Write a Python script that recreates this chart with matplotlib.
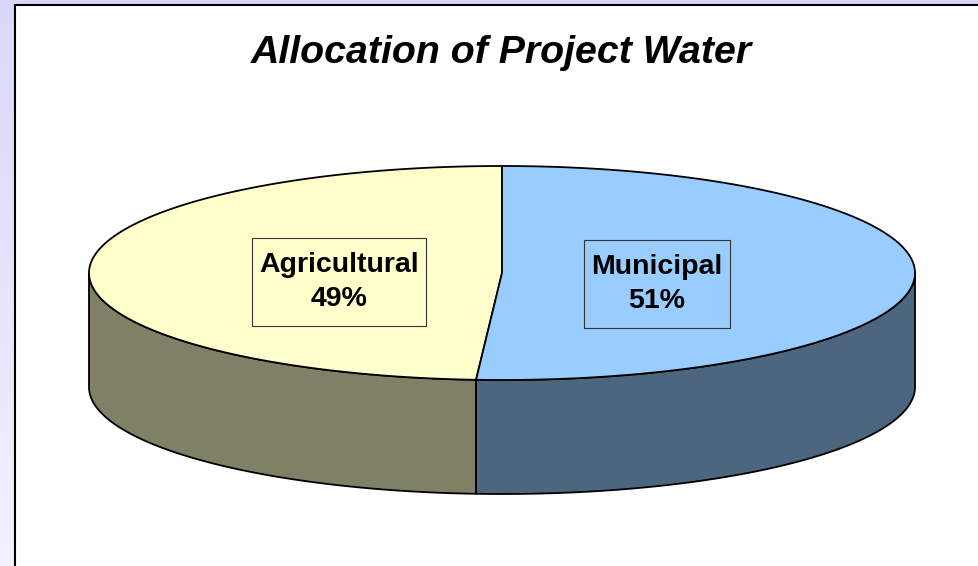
import matplotlib.pyplot as plt
import numpy as np
from matplotlib.patches import Polygon, Rectangle

# 数据
labels = ['Agricultural', 'Municipal']
values = [49, 51]
top_colors = ['#FFFFCC', '#99CCFF']
side_colors = ['#808066', '#4D6680']
title = 'Allocation of Project Water'

plt.rcParams['font.family'] = ['Liberation Sans', 'DejaVu Sans']

W, H = 979, 566
fig = plt.figure(figsize=(W / 100, H / 100), dpi=100)
ax = fig.add_axes([0, 0, 1, 1])
ax.set_xlim(0, W)
ax.set_ylim(H, 0)
ax.axis('off')

# 背景渐变
grad = np.linspace(0, 1, 256).reshape(-1, 1)
c_top = np.array([0xD8, 0xD8, 0xFA]) / 255
c_bot = np.array([0xF2, 0xF2, 0xFE]) / 255
img = c_top + grad[..., None] * (c_bot - c_top)
img = np.repeat(img, 2, axis=1)
ax.imshow(img, extent=[0, W, H, 0], aspect='auto', zorder=0)

# 绘图区
ax.add_patch(Rectangle((15, 5), W, H, facecolor='white', edgecolor='black',
                       linewidth=1.5, zorder=1))

# 3D饼图几何
cx, cy = 502, 273
a, b = 413, 107
depth = 114


def ell(t):
    t = np.radians(t)
    return cx + a * np.cos(t), cy - b * np.sin(t)


total = float(sum(values))
start = 90.0
wedges = []
for v in values:
    span = 360.0 * v / total
    wedges.append((start, start + span))
    start += span

# 侧面（只画前半部分 180~360 度）
for (t1, t2), sc in zip(wedges, side_colors):
    for off in (0, 360, -360):
        s1 = max(t1 + off, 180)
        s2 = min(t2 + off, 360)
        if s2 <= s1:
            continue
        tt = np.linspace(s1, s2, 200)
        xs, ys = ell(tt)
        pts = np.concatenate([np.column_stack([xs, ys]),
                              np.column_stack([xs[::-1], ys[::-1] + depth])])
        ax.add_patch(Polygon(pts, closed=True, facecolor=sc, edgecolor='black',
                             linewidth=1.3, joinstyle='round', zorder=2))

# 顶面
for (t1, t2), tc in zip(wedges, top_colors):
    tt = np.linspace(t1, t2, 300)
    xs, ys = ell(tt)
    pts = np.vstack([[cx, cy], np.column_stack([xs, ys])])
    ax.add_patch(Polygon(pts, closed=True, facecolor=tc, edgecolor='black',
                         linewidth=1.3, joinstyle='round', zorder=3))

# 标签（文字框按文字大小另画）
renderer = fig.canvas.get_renderer()
for (t1, t2), lab, v, tc in zip(wedges, labels, values, top_colors):
    mid = (t1 + t2) / 2
    r = 0.385
    x = cx + a * r * np.cos(np.radians(mid)) - 4
    y = cy - b * r * np.sin(np.radians(mid)) + 10
    t = ax.text(x, y, f'{lab}\n{v}%', ha='center', va='center', fontsize=20.5,
                fontweight='bold', linespacing=1.4, zorder=5)
    bb = t.get_window_extent(renderer)
    px, py = 7, 14
    x0, y0 = ax.transData.inverted().transform((bb.x0 - px, bb.y1 + py))
    x1, y1 = ax.transData.inverted().transform((bb.x1 + px, bb.y0 - py))
    ax.add_patch(Rectangle((x0, y0), x1 - x0, y1 - y0, facecolor=tc,
                           edgecolor='#333333', linewidth=0.8, zorder=4))

ax.text(501, 53, title, ha='center', va='center', fontsize=28.3,
        fontweight='bold', fontstyle='italic', zorder=5)

fig.savefig('out.png', dpi=100)
